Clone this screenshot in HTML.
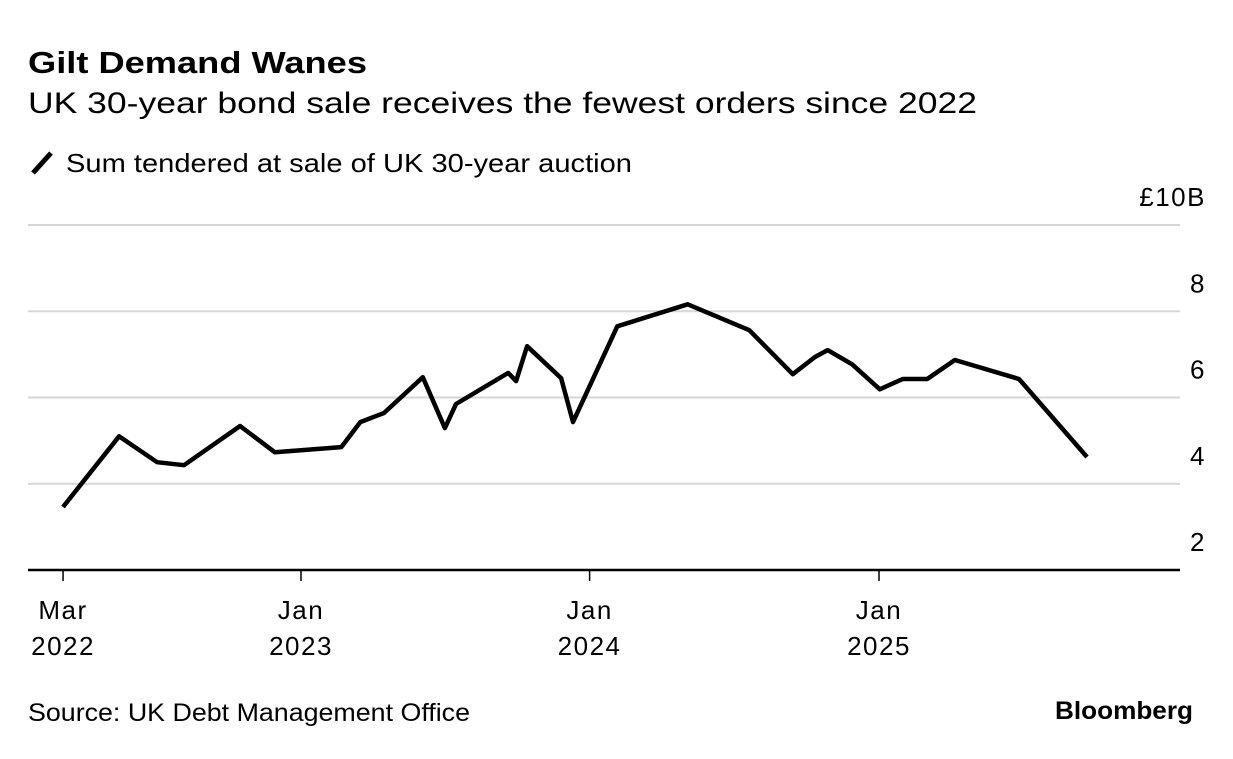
<!DOCTYPE html>
<html><head><meta charset="utf-8"><style>
body{margin:0;background:#fff;}
svg text{font-family:"Liberation Sans",sans-serif;fill:#000;}
</style></head><body>
<svg width="1233" height="754" viewBox="0 0 1233 754" xmlns="http://www.w3.org/2000/svg">
<text x="28" y="73" font-size="31" font-weight="bold" textLength="339" lengthAdjust="spacingAndGlyphs">Gilt Demand Wanes</text>
<text x="28" y="113" font-size="30" textLength="949" lengthAdjust="spacingAndGlyphs">UK 30-year bond sale receives the fewest orders since 2022</text>
<line x1="33" y1="173" x2="51" y2="153" stroke="#000" stroke-width="5"/>
<text x="66" y="172" font-size="26" textLength="566" lengthAdjust="spacingAndGlyphs">Sum tendered at sale of UK 30-year auction</text>
<g id="grid"></g>
<g id="xaxis"></g>
<path id="line" fill="none" stroke="#000" stroke-width="4.5" stroke-linejoin="round"/>
<text x="28" y="721" font-size="25" textLength="442" lengthAdjust="spacingAndGlyphs">Source: UK Debt Management Office</text>
<text x="1055" y="719" font-size="25" font-weight="bold" textLength="138" lengthAdjust="spacingAndGlyphs">Bloomberg</text>
</svg>
<script>
const dates=["2022-03-06","2022-05-16","2022-07-03","2022-08-06","2022-10-16","2022-11-29","2023-02-21","2023-03-17","2023-04-16","2023-06-04","2023-07-02","2023-07-16","2023-09-20","2023-09-30","2023-10-14","2023-11-26","2023-12-11","2024-02-05","2024-05-04","2024-07-21","2024-09-14","2024-10-12","2024-10-28","2024-11-28","2025-01-02","2025-01-31","2025-03-03","2025-04-07","2025-06-27","2025-09-21"];
const values=[3.46,5.1,4.5,4.43,5.34,4.73,4.85,5.43,5.64,6.47,5.29,5.85,6.57,6.38,7.19,6.45,5.43,7.65,8.16,7.56,6.54,6.94,7.10,6.77,6.19,6.43,6.43,6.87,6.43,4.62];
const yTicks=[2,4,6,8,10];
const yTickLabels=["2","4","6","8","£10B"];
const xTicks=["2022-03-01","2023-01-01","2024-01-01","2025-01-01"];
const xTickMonth=["Mar","Jan","Jan","Jan"];
const xTickYear=["2022","2023","2024","2025"];

const NS="http://www.w3.org/2000/svg";
const t0=Date.parse("2023-01-01"),t1=Date.parse("2025-01-01");
function xs(d){return 301+(Date.parse(d)-t0)/(t1-t0)*(879-301);}
function ys(v){return 570-(v-2)*(570-225)/8;}
function mk(tag,attrs,parent){const e=document.createElementNS(NS,tag);for(const k in attrs)e.setAttribute(k,attrs[k]);parent.appendChild(e);return e;}
const grid=document.getElementById('grid'),xa=document.getElementById('xaxis');
yTicks.forEach((v,i)=>{
  if(v!==2){const l=mk('line',{x1:28,x2:1180,y1:ys(v),y2:ys(v),stroke:'#d6d6d6','stroke-width':2},grid);
  
  }
  const t=mk('text',{x:1206,y:ys(v)-19,'font-size':26,'letter-spacing':1.5,'text-anchor':'end'},grid);
  t.textContent=yTickLabels[i];
  
  
});
const ax=mk('line',{x1:28,x2:1180,y1:570,y2:570,stroke:'#000','stroke-width':2.5},xa);


xTicks.forEach((d,i)=>{
  const x=xs(d)+4*(i===0?1:0);
  const tk=mk('line',{x1:x,x2:x,y1:570,y2:581,stroke:'#000','stroke-width':1.5},xa);
  
  
  const t=mk('text',{x:x,y:619,'font-size':26,'letter-spacing':1.5,'text-anchor':'middle'},xa);t.textContent=xTickMonth[i];
  
  
  const t2=mk('text',{x:x,y:655,'font-size':26,'letter-spacing':1.5,'text-anchor':'middle'},xa);t2.textContent=xTickYear[i];
  
  
});
document.getElementById('line').setAttribute('d',dates.map((d,i)=>(i?'L':'M')+xs(d).toFixed(1)+','+ys(values[i]).toFixed(1)).join(''));
</script>
</body></html>
